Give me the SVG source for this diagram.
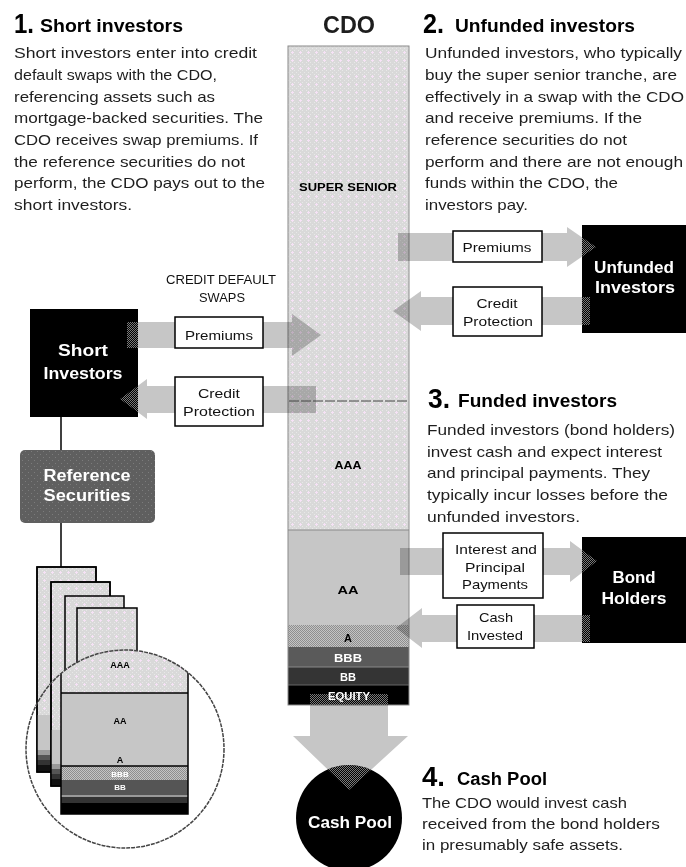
<svg xmlns="http://www.w3.org/2000/svg" width="686" height="867" viewBox="0 0 686 867">
<defs>
  <pattern id="pLight" width="8" height="8" patternUnits="userSpaceOnUse">
    <rect width="8" height="8" fill="#d9d9d9"/>
    <rect x="0" y="0" width="1" height="1" fill="#e8e8e8"/>
    <rect x="2" y="2" width="1" height="1" fill="#e8e8e8"/>
    <rect x="4" y="0" width="1" height="1" fill="#e8e8e8"/>
    <rect x="6" y="2" width="1" height="1" fill="#e8e8e8"/>
    <rect x="2" y="6" width="1" height="1" fill="#e8e8e8"/>
    <rect x="6" y="6" width="1" height="1" fill="#e8e8e8"/>
    <rect x="3" y="4" width="3" height="1" fill="#f6e2f6"/>
    <rect x="4" y="3" width="1" height="3" fill="#f6e2f6"/>
  </pattern>
  <pattern id="pCheck" width="2" height="2" patternUnits="userSpaceOnUse">
    <rect width="2" height="2" fill="#c4c4c4"/>
    <rect width="1" height="1" fill="#8e8e8e"/>
    <rect x="1" y="1" width="1" height="1" fill="#8e8e8e"/>
  </pattern>
  <pattern id="pDark" width="6" height="6" patternUnits="userSpaceOnUse">
    <rect width="6" height="6" fill="#5f5f5f"/>
    <rect x="1" y="1" width="1" height="1" fill="#7c7c7c"/>
    <rect x="4" y="4" width="1" height="1" fill="#7c7c7c"/>
  </pattern>
  <pattern id="pDith" width="2" height="2" patternUnits="userSpaceOnUse">
    <rect width="1" height="1" fill="#7a7a7a"/>
    <rect x="1" y="1" width="1" height="1" fill="#7a7a7a"/>
  </pattern>
  <clipPath id="clipMag"><circle cx="125" cy="749" r="99"/></clipPath>
  <clipPath id="clipShort"><rect x="30" y="309" width="108" height="108"/></clipPath>
  <clipPath id="clipUnf"><rect x="582" y="225" width="104" height="108"/></clipPath>
  <clipPath id="clipBond"><rect x="582" y="537" width="104" height="106"/></clipPath>
  <clipPath id="clipPool"><circle cx="349" cy="818" r="53"/></clipPath>
  <clipPath id="clipEq"><rect x="288" y="685" width="121" height="20"/></clipPath>
  <polygon id="aPremL" points="127,322 292,322 292,314 321,335 292,356 292,348 127,348"/>
  <polygon id="aProtL" points="316,386 147,386 147,379 120,399 147,419 147,413 316,413"/>
  <polygon id="aPremR" points="398,233 567,233 567,227 596,247 567,267 567,261 398,261"/>
  <polygon id="aProtR" points="590,297 421,297 421,291 393,311 421,331 421,325 590,325"/>
  <polygon id="aInt" points="400,548 570,548 570,541 597,561 570,582 570,575 400,575"/>
  <polygon id="aCash" points="590,615 422,615 422,608 396,628 422,648 422,642 590,642"/>
  <polygon id="aPool" points="310,694 388,694 388,736 408,736 349,790 293,736 310,736"/>
</defs>
<style>
  .t { font-family: "Liberation Sans", Arial, sans-serif; fill: #1e1e1e; }
  .body { font-size: 15px; }
  .title { font-size: 18px; font-weight: bold; fill: #000; }
  .num { font-size: 27px; font-weight: bold; fill: #000; }
  .lbl { font-size: 13px; text-anchor: middle; fill: #111; }
  .wb { fill: #fff; font-weight: bold; font-size: 16px; text-anchor: middle; }
  .tr { font-size: 11px; font-weight: bold; text-anchor: middle; fill: #000; }
  .trw { font-size: 10px; font-weight: bold; text-anchor: middle; fill: #fff; }
  .mg { font-size: 9px; font-weight: bold; text-anchor: middle; fill: #000; }
  .mgw { font-size: 8px; font-weight: bold; text-anchor: middle; fill: #fff; }
  .arrow { fill: #c6c6c6; mix-blend-mode: multiply; }
  .dith { fill: url(#pDith); }
  .lbox { fill: #fff; stroke: #000; stroke-width: 1.5; }
  .box { fill: #000; }
  .page { fill: url(#pLight); stroke: #000; stroke-width: 1.5; }
  .ln { stroke: #000; stroke-width: 1.5; fill: none; }
</style>
<rect width="686" height="867" fill="#fff"/>

<!-- Section texts -->
<g id="sec1">
  <text class="t num" x="14" y="33" textLength="20" lengthAdjust="spacingAndGlyphs">1.</text>
  <text class="t title" x="40" y="32" textLength="143" lengthAdjust="spacingAndGlyphs">Short investors</text>
  <text class="t body" x="14" y="58" textLength="243" lengthAdjust="spacingAndGlyphs">Short investors enter into credit</text>
  <text class="t body" x="14" y="80" textLength="203" lengthAdjust="spacingAndGlyphs">default swaps with the CDO,</text>
  <text class="t body" x="14" y="102" textLength="201" lengthAdjust="spacingAndGlyphs">referencing assets such as</text>
  <text class="t body" x="14" y="123" textLength="249" lengthAdjust="spacingAndGlyphs">mortgage-backed securities. The</text>
  <text class="t body" x="14" y="145" textLength="244" lengthAdjust="spacingAndGlyphs">CDO receives swap premiums. If</text>
  <text class="t body" x="14" y="167" textLength="231" lengthAdjust="spacingAndGlyphs">the reference securities do not</text>
  <text class="t body" x="14" y="188" textLength="251" lengthAdjust="spacingAndGlyphs">perform, the CDO pays out to the</text>
  <text class="t body" x="14" y="210" textLength="118" lengthAdjust="spacingAndGlyphs">short investors.</text>
</g>
<g id="sec2">
  <text class="t num" x="423" y="33" textLength="21" lengthAdjust="spacingAndGlyphs">2.</text>
  <text class="t title" x="455" y="32" textLength="180" lengthAdjust="spacingAndGlyphs">Unfunded investors</text>
  <text class="t body" x="425" y="58" textLength="257" lengthAdjust="spacingAndGlyphs">Unfunded investors, who typically</text>
  <text class="t body" x="425" y="80" textLength="252" lengthAdjust="spacingAndGlyphs">buy the super senior tranche, are</text>
  <text class="t body" x="425" y="102" textLength="259" lengthAdjust="spacingAndGlyphs">effectively in a swap with the CDO</text>
  <text class="t body" x="425" y="123" textLength="217" lengthAdjust="spacingAndGlyphs">and receive premiums. If the</text>
  <text class="t body" x="425" y="145" textLength="202" lengthAdjust="spacingAndGlyphs">reference securities do not</text>
  <text class="t body" x="425" y="167" textLength="258" lengthAdjust="spacingAndGlyphs">perform and there are not enough</text>
  <text class="t body" x="425" y="188" textLength="193" lengthAdjust="spacingAndGlyphs">funds within the CDO, the</text>
  <text class="t body" x="425" y="210" textLength="103" lengthAdjust="spacingAndGlyphs">investors pay.</text>
</g>
<g id="sec3">
  <text class="t num" x="428" y="408" textLength="22" lengthAdjust="spacingAndGlyphs">3.</text>
  <text class="t title" x="458" y="407" textLength="159" lengthAdjust="spacingAndGlyphs">Funded investors</text>
  <text class="t body" x="427" y="435" textLength="248" lengthAdjust="spacingAndGlyphs">Funded investors (bond holders)</text>
  <text class="t body" x="427" y="457" textLength="235" lengthAdjust="spacingAndGlyphs">invest cash and expect interest</text>
  <text class="t body" x="427" y="478" textLength="223" lengthAdjust="spacingAndGlyphs">and principal payments. They</text>
  <text class="t body" x="427" y="500" textLength="241" lengthAdjust="spacingAndGlyphs">typically incur losses before the</text>
  <text class="t body" x="427" y="522" textLength="153" lengthAdjust="spacingAndGlyphs">unfunded investors.</text>
</g>
<g id="sec4">
  <text class="t num" x="422" y="786" textLength="23" lengthAdjust="spacingAndGlyphs">4.</text>
  <text class="t title" x="457" y="785" textLength="90" lengthAdjust="spacingAndGlyphs">Cash Pool</text>
  <text class="t body" x="422" y="808" textLength="205" lengthAdjust="spacingAndGlyphs">The CDO would invest cash</text>
  <text class="t body" x="422" y="829" textLength="238" lengthAdjust="spacingAndGlyphs">received from the bond holders</text>
  <text class="t body" x="422" y="850" textLength="201" lengthAdjust="spacingAndGlyphs">in presumably safe assets.</text>
</g>

<!-- CDO column -->
<g id="cdo">
  <text class="t" x="349" y="33" font-size="24" font-weight="bold" fill="#000" text-anchor="middle" textLength="52" lengthAdjust="spacingAndGlyphs">CDO</text>
  <rect x="288" y="46" width="121" height="484" fill="url(#pLight)"/>
  <rect x="288" y="530" width="121" height="95" fill="#c6c6c6"/>
  <rect x="288" y="625" width="121" height="22" fill="url(#pCheck)"/>
  <rect x="288" y="647" width="121" height="20" fill="#5a5a5a"/>
  <rect x="288" y="667" width="121" height="18" fill="#343434"/>
  <rect x="288" y="685" width="121" height="20" fill="#000"/>
  <line x1="288" y1="530" x2="409" y2="530" stroke="#8a8a8a" stroke-width="1"/>
  <line x1="288" y1="667" x2="409" y2="667" stroke="#888" stroke-width="1"/>
  <line x1="288" y1="685" x2="409" y2="685" stroke="#666" stroke-width="1"/>
  <rect x="288" y="46" width="121" height="659" fill="none" stroke="#8a8a8a" stroke-width="1"/>
</g>

<!-- Nodes -->
<g id="short-investors">
  <rect class="box" x="30" y="309" width="108" height="108"/>
  <text class="t wb" x="83" y="356" textLength="50" lengthAdjust="spacingAndGlyphs">Short</text>
  <text class="t wb" x="83" y="379" textLength="79" lengthAdjust="spacingAndGlyphs">Investors</text>
</g>
<g id="reference-securities">
  <rect x="20" y="450" width="135" height="73" rx="5" fill="url(#pDark)"/>
  <text class="t wb" x="87" y="481" textLength="87" lengthAdjust="spacingAndGlyphs">Reference</text>
  <text class="t wb" x="87" y="501" textLength="87" lengthAdjust="spacingAndGlyphs">Securities</text>
</g>
<g id="unfunded-investors">
  <rect class="box" x="582" y="225" width="104" height="108"/>
  <text class="t wb" x="634" y="273" textLength="80" lengthAdjust="spacingAndGlyphs">Unfunded</text>
  <text class="t wb" x="635" y="293" textLength="80" lengthAdjust="spacingAndGlyphs">Investors</text>
</g>
<g id="bond-holders">
  <rect class="box" x="582" y="537" width="104" height="106"/>
  <text class="t wb" x="634" y="583" textLength="43" lengthAdjust="spacingAndGlyphs">Bond</text>
  <text class="t wb" x="634" y="604" textLength="65" lengthAdjust="spacingAndGlyphs">Holders</text>
</g>
<g id="cash-pool">
  <circle cx="349" cy="818" r="53" fill="#000"/>
</g>

<!-- Reference securities pool (pages + magnifier) -->
<g id="securities-stack">
  <rect class="page" x="37" y="567" width="59" height="205"/>
  <rect x="37" y="715" width="59" height="35" fill="#c6c6c6"/>
  <rect x="37" y="750" width="59" height="5" fill="#9a9a9a"/>
  <rect x="37" y="755" width="59" height="5" fill="#555"/>
  <rect x="37" y="760" width="59" height="5" fill="#333"/>
  <rect x="37" y="765" width="59" height="7" fill="#111"/>
  <rect x="37" y="567" width="59" height="205" fill="none" stroke="#000" stroke-width="1.5"/>
  <rect class="page" x="51" y="582" width="59" height="204"/>
  <rect x="51" y="730" width="59" height="34" fill="#c6c6c6"/>
  <rect x="51" y="764" width="59" height="5" fill="#9a9a9a"/>
  <rect x="51" y="769" width="59" height="5" fill="#555"/>
  <rect x="51" y="774" width="59" height="5" fill="#333"/>
  <rect x="51" y="779" width="59" height="7" fill="#111"/>
  <rect x="51" y="582" width="59" height="204" fill="none" stroke="#000" stroke-width="1.5"/>
  <rect class="page" x="65" y="596" width="59" height="204"/>
  <rect class="page" x="77" y="608" width="60" height="204"/>
  <g clip-path="url(#clipMag)">
    <rect x="61" y="640" width="127" height="53" fill="url(#pLight)"/>
    <rect x="61" y="693" width="127" height="73" fill="#c6c6c6"/>
    <rect x="61" y="766" width="127" height="14" fill="url(#pCheck)"/>
    <rect x="61" y="780" width="127" height="15" fill="#555"/>
    <rect x="61" y="795" width="127" height="2" fill="#999"/>
    <rect x="61" y="797" width="127" height="6" fill="#333"/>
    <rect x="61" y="803" width="127" height="11" fill="#000"/>
    <line x1="61" y1="693" x2="188" y2="693" stroke="#000" stroke-width="1.5"/>
    <line x1="61" y1="766" x2="188" y2="766" stroke="#000" stroke-width="1.5"/>
    <rect x="61" y="640" width="127" height="174" fill="none" stroke="#000" stroke-width="1.5"/>
  </g>
  <circle cx="125" cy="749" r="99" fill="none" stroke="#444" stroke-width="1.5" stroke-dasharray="4,1"/>
  <text class="t mg" x="120" y="668">AAA</text>
  <text class="t mg" x="120" y="724">AA</text>
  <text class="t mg" x="120" y="763">A</text>
  <text class="t mgw" x="120" y="777">BBB</text>
  <text class="t mgw" x="120" y="790">BB</text>
</g>

<!-- Connectors -->
<g id="connectors">
  <line class="ln" x1="61" y1="417" x2="61" y2="450"/>
  <line class="ln" x1="61" y1="523" x2="61" y2="567"/>
  <use href="#aPremL" class="arrow"/>
  <use href="#aProtL" class="arrow"/>
  <use href="#aPremR" class="arrow"/>
  <use href="#aProtR" class="arrow"/>
  <use href="#aInt" class="arrow"/>
  <use href="#aCash" class="arrow"/>
  <use href="#aPool" class="arrow"/>
  <g clip-path="url(#clipShort)"><use href="#aPremL" class="dith"/><use href="#aProtL" class="dith"/></g>
  <g clip-path="url(#clipUnf)"><use href="#aPremR" class="dith"/><use href="#aProtR" class="dith"/></g>
  <g clip-path="url(#clipBond)"><use href="#aInt" class="dith"/><use href="#aCash" class="dith"/></g>
  <g clip-path="url(#clipPool)"><use href="#aPool" class="dith"/></g>
  <g clip-path="url(#clipEq)"><use href="#aPool" class="dith"/></g>
  <line x1="289" y1="401" x2="409" y2="401" stroke="#444" stroke-width="1" stroke-dasharray="10,2"/>
</g>

<!-- Tranche labels -->
<g id="tranche-labels">
  <text class="t tr" x="348" y="191" textLength="98" lengthAdjust="spacingAndGlyphs">SUPER SENIOR</text>
  <text class="t tr" x="348" y="469" textLength="27" lengthAdjust="spacingAndGlyphs">AAA</text>
  <text class="t tr" x="348" y="594" textLength="21" lengthAdjust="spacingAndGlyphs">AA</text>
  <text class="t tr" x="348" y="642">A</text>
  <text class="t trw" x="348" y="662" textLength="28" lengthAdjust="spacingAndGlyphs">BBB</text>
  <text class="t trw" x="348" y="681" textLength="16" lengthAdjust="spacingAndGlyphs">BB</text>
  <text class="t trw" x="349" y="700" fill="#ddd" textLength="42" lengthAdjust="spacingAndGlyphs">EQUITY</text>
</g>

<!-- Connector labels -->
<g id="labels">
  <text class="t lbl" x="221" y="284" font-size="12" fill="#333" textLength="110" lengthAdjust="spacingAndGlyphs">CREDIT DEFAULT</text>
  <text class="t lbl" x="222" y="302" font-size="12" fill="#333" textLength="46" lengthAdjust="spacingAndGlyphs">SWAPS</text>
  <rect class="lbox" x="175" y="317" width="88" height="31"/>
  <text class="t lbl" x="219" y="340" textLength="68" lengthAdjust="spacingAndGlyphs">Premiums</text>
  <rect class="lbox" x="175" y="377" width="88" height="49"/>
  <text class="t lbl" x="219" y="398" textLength="42" lengthAdjust="spacingAndGlyphs">Credit</text>
  <text class="t lbl" x="219" y="416" textLength="72" lengthAdjust="spacingAndGlyphs">Protection</text>
  <rect class="lbox" x="453" y="231" width="89" height="31"/>
  <text class="t lbl" x="497" y="252" textLength="69" lengthAdjust="spacingAndGlyphs">Premiums</text>
  <rect class="lbox" x="453" y="287" width="89" height="49"/>
  <text class="t lbl" x="497" y="308" textLength="41" lengthAdjust="spacingAndGlyphs">Credit</text>
  <text class="t lbl" x="498" y="326" textLength="70" lengthAdjust="spacingAndGlyphs">Protection</text>
  <rect class="lbox" x="443" y="533" width="100" height="65"/>
  <text class="t lbl" x="496" y="554" textLength="82" lengthAdjust="spacingAndGlyphs">Interest and</text>
  <text class="t lbl" x="495" y="572" textLength="60" lengthAdjust="spacingAndGlyphs">Principal</text>
  <text class="t lbl" x="495" y="589" textLength="66" lengthAdjust="spacingAndGlyphs">Payments</text>
  <rect class="lbox" x="457" y="605" width="77" height="43"/>
  <text class="t lbl" x="496" y="622" textLength="34" lengthAdjust="spacingAndGlyphs">Cash</text>
  <text class="t lbl" x="495" y="640" textLength="56" lengthAdjust="spacingAndGlyphs">Invested</text>
  <text class="t wb" x="350" y="828" textLength="84" lengthAdjust="spacingAndGlyphs">Cash Pool</text>
</g>
</svg>
